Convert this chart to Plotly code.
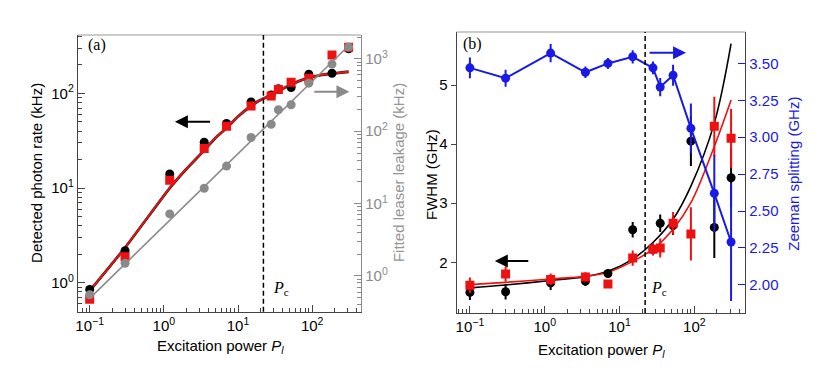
import plotly.graph_objects as go

# page body has an 8px margin, so the figure is drawn 16px smaller and offset
PAGE_W, PAGE_H, OFF = 830, 382, 8
W, H = PAGE_W - 2 * OFF, PAGE_H - 2 * OFF

# excitation power (same set for both panels)
power = [0.1, 0.3, 1.2, 3.5, 7, 15, 28, 35, 52, 90, 185, 310]

# panel (a): detected photon rate (kHz)
rate_black = [0.85, 2.18, 14.1, 30.4, 48, 81, 96, 112, 115, 159, 163, 295]
rate_red = [0.67, 1.88, 12.1, 26.2, 45, 73.5, 94, 110, 131, 144, 254, 306]
# fitted laser leakage (kHz), right axis
leak_gray = [0.55, 1.5, 7.2, 16.3, 33, 82, 125, 198, 232, 462, 847, 1456]

# fit curves
fit_a_x = [0.1, 0.3, 1.2, 2, 3.5, 5, 7, 10, 15, 20, 28, 40, 52, 70, 90, 130, 185, 250, 310]
fit_a_y = [0.82, 2.35, 10.0, 15.8, 25, 34, 43, 57, 73.5, 85, 96, 112, 124, 137, 146, 156, 162, 166, 169]
leak_fit_x = [0.1, 310]
leak_fit_y = [0.49, 1520]

# panel (b): FWHM (GHz)
fwhm_black = [1.49, 1.50, 1.65, 1.68, 1.81, 2.55, 2.22, 2.66, 2.62, 4.05, 2.59, 3.43]
fwhm_black_err = [0.13, 0.13, 0.12, 0.08, 0.07, 0.13, 0.1, 0.15, 0.16, 0.42, 0.52, 0.5]
fwhm_red = [1.61, 1.80, 1.71, 1.75, 1.63, 2.07, 2.22, 2.24, 2.66, 2.48, 4.30, 4.10]
fwhm_red_err = [0.13, 0.13, 0.1, 0.08, 0.05, 0.13, 0.1, 0.16, 0.19, 0.45, 0.5, 0.5]
# Zeeman splitting (GHz), right axis
zeeman = [3.47, 3.40, 3.57, 3.44, 3.50, 3.545, 3.47, 3.34, 3.42, 3.06, 2.62, 2.29]
zeeman_err = [0.07, 0.058, 0.062, 0.039, 0.037, 0.045, 0.043, 0.062, 0.071, 0.168, 0.26, 0.40]

fit_b_x = [0.1, 0.3, 1.2, 3.5, 7, 15, 28, 52, 90, 185, 310]
fit_b_black = [1.566, 1.616, 1.69, 1.756, 1.846, 2.054, 2.335, 2.727, 3.288, 4.355, 5.70]
fit_b_red = [1.622, 1.66, 1.717, 1.762, 1.83, 2.015, 2.222, 2.559, 3.008, 3.96, 4.747]

P_c = 22

# log tick labels
x_tickvals = [0.1, 1, 10, 100]
x_ticktext = ["10<sup>−1</sup>", "10<sup>0</sup>", "10<sup>1</sup>", "10<sup>2</sup>"]
ya_tickvals = [1, 10, 100]
ya_ticktext = ["10<sup>0</sup>", "10<sup>1</sup>", "10<sup>2</sup>"]
yr_tickvals = [1, 10, 100, 1000]
yr_ticktext = ["10<sup>0</sup>", "10<sup>1</sup>", "10<sup>2</sup>", "10<sup>3</sup>"]
zeeman_ticks = [2.0, 2.25, 2.5, 2.75, 3.0, 3.25, 3.5]

RED = "#ee1111"
BLUE = "#1a1ae6"
GRAY = "#8a8a8a"
DARK = "#444"
SANS = "Liberation Sans"
SERIF = "Liberation Serif"

minor_vals = [k * 10.0 ** d for d in range(-2, 4) for k in range(2, 10)]


def px(x):
    return (x - OFF) / W


def py(y):
    return 1 - (y - OFF) / H


fig = go.Figure()

# --- panel (a) ---
fig.add_trace(go.Scatter(x=fit_a_x, y=fit_a_y, mode="lines", line=dict(color="#222", width=2.8, shape="spline", smoothing=0.6),
                         xaxis="x", yaxis="y", showlegend=False))
fig.add_trace(go.Scatter(x=fit_a_x, y=fit_a_y, mode="lines", line=dict(color=RED, width=1.8, shape="spline", smoothing=0.6),
                         xaxis="x", yaxis="y", showlegend=False))
fig.add_trace(go.Scatter(x=power, y=rate_black, mode="markers", marker=dict(color="black", size=9, symbol="circle"),
                         xaxis="x", yaxis="y", showlegend=False))
fig.add_trace(go.Scatter(x=power, y=rate_red, mode="markers", marker=dict(color=RED, size=9, symbol="square"),
                         xaxis="x", yaxis="y", showlegend=False))
fig.add_trace(go.Scatter(x=leak_fit_x, y=leak_fit_y, mode="lines", line=dict(color=GRAY, width=1.6),
                         xaxis="x", yaxis="y3", showlegend=False))
fig.add_trace(go.Scatter(x=power, y=leak_gray, mode="markers", marker=dict(color=GRAY, size=9, symbol="circle"),
                         xaxis="x", yaxis="y3", showlegend=False))

# --- panel (b) ---
fig.add_trace(go.Scatter(x=fit_b_x, y=fit_b_black, mode="lines", line=dict(color="black", width=1.6, shape="spline"),
                         xaxis="x2", yaxis="y2", showlegend=False))
fig.add_trace(go.Scatter(x=fit_b_x, y=fit_b_red, mode="lines", line=dict(color=RED, width=1.6, shape="spline"),
                         xaxis="x2", yaxis="y2", showlegend=False))
fig.add_trace(go.Scatter(x=power, y=fwhm_black, mode="markers", marker=dict(color="black", size=9, symbol="circle"),
                         error_y=dict(type="data", array=fwhm_black_err, color="black", thickness=2, width=0),
                         xaxis="x2", yaxis="y2", showlegend=False))
fig.add_trace(go.Scatter(x=power, y=fwhm_red, mode="markers", marker=dict(color=RED, size=9, symbol="square"),
                         error_y=dict(type="data", array=fwhm_red_err, color=RED, thickness=2, width=0),
                         xaxis="x2", yaxis="y2", showlegend=False))
fig.add_trace(go.Scatter(x=power, y=zeeman, mode="lines+markers", line=dict(color=BLUE, width=2),
                         marker=dict(color=BLUE, size=9, symbol="circle"),
                         error_y=dict(type="data", array=zeeman_err, color=BLUE, thickness=2, width=0),
                         xaxis="x2", yaxis="y4", showlegend=False))

# empty traces so the minor-tick overlay axes get drawn
for xa, ya in [("x3", "y"), ("x4", "y2"), ("x", "y5"), ("x", "y6")]:
    fig.add_trace(go.Scatter(x=[], y=[], xaxis=xa, yaxis=ya, showlegend=False, hoverinfo="skip"))

tickfont = dict(family=SANS, size=15, color="black")

dom_ax = [px(76), px(360)]
dom_ay = [py(311.7), py(35)]
dom_bx = [px(455.7), px(745)]
dom_by = [py(313), py(32)]

xa_range = [-1.16, 2.66]
ya_range = [-0.306, 2.616]
yr_range = [-0.494, 3.33]
xb_range = [-1.178, 2.68]

common = dict(showline=True, linewidth=1.2, showgrid=False, zeroline=False)


def minor_axis(rng, col, **kw):
    return dict(type="log", range=rng, tickmode="array", tickvals=minor_vals, ticks="inside", ticklen=4,
                tickcolor=col, showticklabels=False, showline=False, showgrid=False, zeroline=False, **kw)


fig.update_layout(
    width=W, height=H,
    margin=dict(l=0, r=0, t=0, b=0),
    paper_bgcolor="white", plot_bgcolor="white",
    font=dict(family=SANS, size=14, color="black"),
    xaxis=dict(type="log", domain=dom_ax, range=xa_range, anchor="y", linecolor=DARK,
               ticks="inside", ticklen=7, tickcolor=DARK,
               tickvals=x_tickvals, ticktext=x_ticktext, tickfont=tickfont, **common),
    yaxis=dict(type="log", domain=dom_ay, range=ya_range, anchor="x", linecolor=DARK,
               ticks="inside", ticklen=7, tickcolor=DARK,
               tickvals=ya_tickvals, ticktext=ya_ticktext, tickfont=tickfont, **common),
    yaxis3=dict(type="log", overlaying="y", side="right", anchor="x", range=yr_range, linecolor=GRAY,
                ticks="inside", ticklen=7, tickcolor=GRAY,
                tickvals=yr_tickvals, ticktext=yr_ticktext,
                tickfont=dict(family=SANS, size=15, color=GRAY), **common),
    xaxis2=dict(type="log", domain=dom_bx, range=xb_range, anchor="y2", linecolor=DARK,
                ticks="inside", ticklen=7, tickcolor=DARK,
                tickvals=x_tickvals, ticktext=x_ticktext, tickfont=tickfont, **common),
    yaxis2=dict(domain=dom_by, range=[1.141, 5.897], anchor="x2", linecolor=DARK,
                ticks="outside", ticklen=5, tickcolor=DARK, dtick=1, tickfont=tickfont, **common),
    yaxis4=dict(overlaying="y2", side="right", anchor="x2", range=[1.809, 3.713], linecolor=DARK,
                ticks="inside", ticklen=7, tickcolor=BLUE, tickvals=zeeman_ticks, tickformat=".2f",
                tickfont=dict(family=SANS, size=15, color=BLUE), **common),
    # minor tick overlays
    xaxis3=minor_axis(xa_range, DARK, overlaying="x", anchor="y", side="bottom"),
    xaxis4=minor_axis(xb_range, DARK, overlaying="x2", anchor="y2", side="bottom"),
    yaxis5=minor_axis(ya_range, DARK, overlaying="y", anchor="x", side="left"),
    yaxis6=minor_axis(yr_range, GRAY, overlaying="y", anchor="x", side="right"),
)

# top frame lines (gray)
for xd, yd in [(dom_ax, dom_ay), (dom_bx, dom_by)]:
    fig.add_shape(type="line", xref="paper", yref="paper", x0=xd[0], x1=xd[1], y0=yd[1], y1=yd[1],
                  line=dict(color="#999", width=1.2))

# critical power lines
fig.add_shape(type="line", xref="x", yref="y domain", x0=P_c, x1=P_c, y0=0, y1=1,
              line=dict(color="black", width=1.5, dash="5px,3px"))
fig.add_shape(type="line", xref="x2", yref="y2 domain", x0=P_c, x1=P_c, y0=0, y1=1,
              line=dict(color="black", width=1.5, dash="5px,3px"))

ann = []
# axis titles
ann.append(dict(text="Detected photon rate (kHz)", x=px(35), y=py(173), textangle=-90))
ann.append(dict(text="Fitted leaser leakage (kHz)", x=px(398), y=py(173), textangle=-90,
                font=dict(family=SANS, size=15, color="#959595")))
ann.append(dict(text="Excitation power <i>P</i><sub><i>l</i></sub>", x=px(218.7), y=py(346.7)))
ann.append(dict(text="FWHM (GHz)", x=px(430), y=py(174), textangle=-90))
ann.append(dict(text="Zeeman splitting (GHz)", x=px(792.7), y=py(174), textangle=-90,
                font=dict(family=SANS, size=15, color=BLUE)))
ann.append(dict(text="Excitation power <i>P</i><sub><i>l</i></sub>", x=px(600.5), y=py(350)))
# panel labels
ann.append(dict(text="(a)", x=px(95), y=py(45), font=dict(family=SERIF, size=16, color="black")))
ann.append(dict(text="(b)", x=px(471.7), y=py(44), font=dict(family=SERIF, size=16, color="black")))
ann.append(dict(text="<i>P</i><sub>c</sub>", x=px(280), y=py(288), font=dict(family=SERIF, size=16, color="black")))
ann.append(dict(text="<i>P</i><sub>c</sub>", x=px(659), y=py(288), font=dict(family=SERIF, size=16, color="black")))
for a in ann:
    a.setdefault("font", dict(family=SANS, size=15, color="black"))
    fig.add_annotation(xref="paper", yref="paper", showarrow=False, xanchor="center", yanchor="middle", **a)

# arrows pointing to the relevant axis
arrows = [
    (173.3, 121.7, 36.7, "black"),
    (348.3, 91.7, -36.7, GRAY),
    (685.7, 52.7, -38, BLUE),
    (494, 261, 35, "black"),
]
for hx, hy, dx, col in arrows:
    fig.add_annotation(xref="paper", yref="paper", x=px(hx), y=py(hy), ax=dx, ay=0, text="",
                       showarrow=True, arrowhead=2, arrowsize=1.3, arrowwidth=2, arrowcolor=col)

fig.write_html("out.html")
